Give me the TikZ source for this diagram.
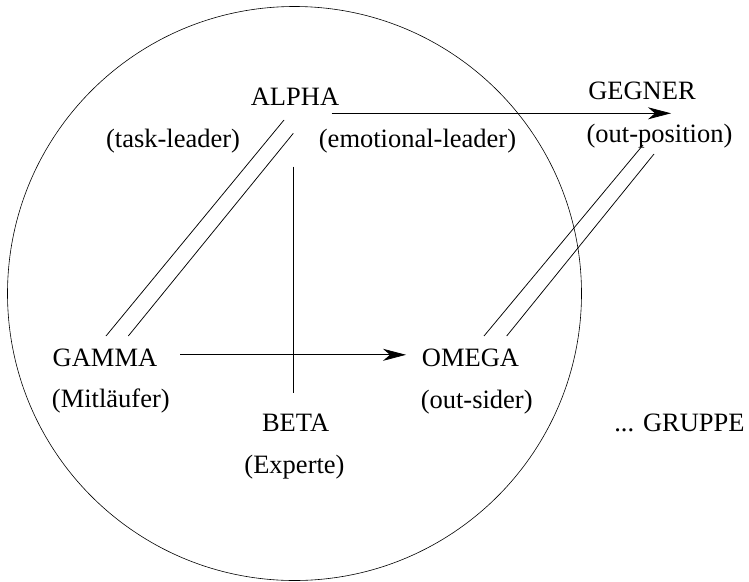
\documentclass[tikz,border=0pt]{standalone}
\usepackage{fontspec}
\setmainfont{Liberation Serif}
\usetikzlibrary{arrows.meta}
\begin{document}
\begin{tikzpicture}[x=1pt,y=-1pt,
  lbl/.style={anchor=base,inner sep=0pt,font=\fontsize{26.5}{30}\selectfont},
  link/.style={line width=0.75pt},
  rel/.style={line width=0.75pt,-{Stealth[length=23pt,width=12pt,inset=7pt]}}]
\useasboundingbox (0,0) rectangle (749,581);

% group boundary
\node[draw,circle,line width=0.6pt,minimum size=574pt,inner sep=0pt] (grp) at (294.5,293.5) {};

% roles
\node[lbl] (alpha)   at (295,105)    {ALPHA};
\node[lbl] (task)    at (173,147.5)  {(task-leader)};
\node[lbl] (emo)     at (417.5,147.5){(emotional-leader)};
\node[lbl] (gegner)  at (642,99.3)   {GEGNER};
\node[lbl] (outpos)  at (659.5,142.5){(out-position)};
\node[lbl] (gamma)   at (105,366)    {GAMMA};
\node[lbl] (mitl)    at (110.8,407.5){(Mitläufer)};
\node[lbl] (omega)   at (470.5,366.5){OMEGA};
\node[lbl] (outsid)  at (476.7,408)  {(out-sider)};
\node[lbl] (beta)    at (295.6,431.5){BETA};
\node[lbl] (exp)     at (294.5,473.5){(Experte)};
\node[lbl] (gruppe)  at (679.5,431.7){... GRUPPE};

% connector end points
\coordinate (aR)  at (331.5,113.3);
\coordinate (gL)  at (671,113.3);
\coordinate (gmR) at (180,354.8);
\coordinate (omL) at (406,354.8);
\coordinate (a1)  at (284,120);
\coordinate (a2)  at (293.3,133.3);
\coordinate (c1)  at (106,336);
\coordinate (c2)  at (128.3,336);
\coordinate (o1)  at (484,336);
\coordinate (o2)  at (506.7,336);
\coordinate (g1)  at (643,145);
\coordinate (g2)  at (654,154);
\coordinate (bT)  at (293.3,166.7);
\coordinate (bB)  at (293.3,392.5);

% relations
\draw[rel] (aR) -- (gL);
\draw[rel] (gmR) -- (omL);
\draw[link] (a1) -- (c1);
\draw[link] (a2) -- (c2);
\draw[link] (o1) -- (g1);
\draw[link] (o2) -- (g2);
\draw[link] (bT) -- (bB);
\end{tikzpicture}
\end{document}
